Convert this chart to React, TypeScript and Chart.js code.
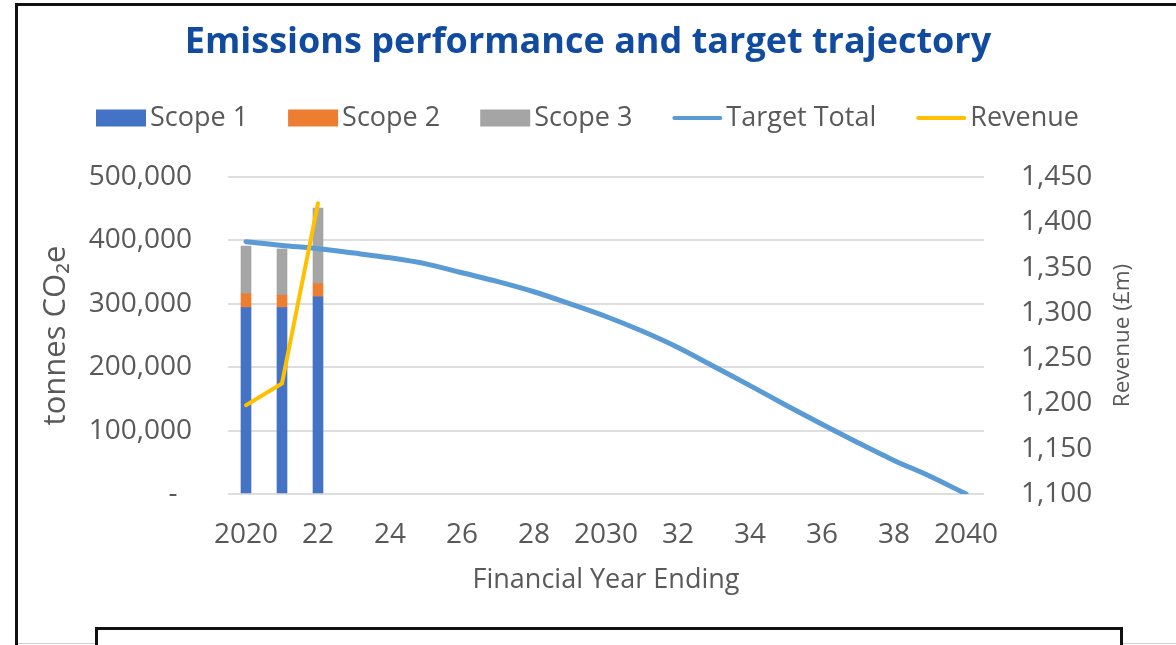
import React, { useEffect, useRef } from 'react';
import { Chart, registerables } from 'chart.js';

Chart.register(...registerables);

const FONT = "'Open Sans', sans-serif";
const TEXT_GREY = '#595959';

const years = [2020, 2021, 2022, 2023, 2024, 2025, 2026, 2027, 2028, 2029, 2030, 2031, 2032, 2033, 2034, 2035, 2036, 2037, 2038, 2039, 2040];
const xTickLabels = ['2020', '', '22', '', '24', '', '26', '', '28', '', '2030', '', '32', '', '34', '', '36', '', '38', '', '2040'];

const scope1 = [294000, 294000, 311000];
const scope2 = [22000, 19500, 21000];
const scope3 = [75000, 73000, 119000];
const targetTotal = [398000, 392000, 387000, 380000, 372500, 363000, 349000, 335000, 319000, 300000, 280000, 257000, 231000, 201000, 171000, 140000, 110000, 81000, 53000, 28000, 0];
const revenue = [1198, 1222, 1421];

const titleText = 'Emissions performance and target trajectory';
const leftAxisTitle = 'tonnes CO₂e';
const rightAxisTitle = 'Revenue (£m)';
const xAxisTitle = 'Financial Year Ending';

const decorPlugin = {
  id: 'decor',
  afterDraw(chart: any) {
    const ctx = chart.ctx as CanvasRenderingContext2D;
    ctx.save();
    // custom legend
    ctx.font = `27px ${FONT}`;
    ctx.textBaseline = 'middle';
    ctx.textAlign = 'left';
    const boxW = 50;
    const gapBT = 4;
    const gapItems = 40;
    const items = chart.data.datasets.map((ds: any) => ({
      label: ds.label,
      isLine: ds.type === 'line',
      color: ds.type === 'line' ? ds.borderColor : ds.backgroundColor,
      w: ctx.measureText(ds.label).width,
    }));
    const total = items.reduce((s: number, it: any) => s + boxW + gapBT + it.w, 0) + gapItems * (items.length - 1);
    let x = 587.5 - total / 2;
    const y = 118;
    items.forEach((it: any) => {
      if (it.isLine) {
        ctx.strokeStyle = it.color;
        ctx.lineWidth = 4;
        ctx.lineCap = 'round';
        ctx.beginPath();
        ctx.moveTo(x + 2, y);
        ctx.lineTo(x + boxW - 2, y);
        ctx.stroke();
      } else {
        ctx.fillStyle = it.color;
        ctx.fillRect(x, y - 8.5, boxW, 17);
      }
      ctx.fillStyle = TEXT_GREY;
      ctx.fillText(it.label, x + boxW + gapBT, y);
      x += boxW + gapBT + it.w + gapItems;
    });
    // right axis title, reading bottom-to-top
    const y1 = chart.scales.y1;
    ctx.translate(1123, (y1.top + y1.bottom) / 2);
    ctx.rotate(-Math.PI / 2);
    ctx.font = `22.5px ${FONT}`;
    ctx.textAlign = 'center';
    ctx.textBaseline = 'middle';
    ctx.fillStyle = TEXT_GREY;
    ctx.fillText(rightAxisTitle, 0, 0);
    ctx.restore();
  },
};

export default function App() {
  const canvasRef = useRef<HTMLCanvasElement | null>(null);

  useEffect(() => {
    if (!canvasRef.current) return;
    const chart = new Chart(canvasRef.current, {
      type: 'bar',
      data: {
        labels: years,
        datasets: [
          { type: 'bar', label: 'Scope 1', data: scope1, backgroundColor: '#4472C4', stack: 'emissions', order: 3, barThickness: 10, yAxisID: 'y' },
          { type: 'bar', label: 'Scope 2', data: scope2, backgroundColor: '#ED7D31', stack: 'emissions', order: 3, barThickness: 10, yAxisID: 'y' },
          { type: 'bar', label: 'Scope 3', data: scope3, backgroundColor: '#A5A5A5', stack: 'emissions', order: 3, barThickness: 10, yAxisID: 'y' },
          { type: 'line', label: 'Target Total', data: targetTotal, borderColor: '#5B9BD5', backgroundColor: '#5B9BD5', borderWidth: 5, pointRadius: 0, tension: 0.3, borderCapStyle: 'round', stack: 'target', order: 2, yAxisID: 'y' },
          { type: 'line', label: 'Revenue', data: revenue, borderColor: '#FFC000', backgroundColor: '#FFC000', borderWidth: 4, pointRadius: 0, tension: 0, borderCapStyle: 'round', order: 1, yAxisID: 'y1' },
        ] as any,
      },
      options: {
        animation: false,
        responsive: true,
        maintainAspectRatio: false,
        layout: { padding: 0 },
        plugins: {
          legend: { display: false },
          tooltip: { enabled: false },
          title: {
            display: true,
            text: titleText,
            color: '#114B9F',
            font: { family: FONT, size: 36, weight: 'bold' },
            padding: { top: 21, bottom: 112.8 },
          },
        },
        scales: {
          x: {
            stacked: true,
            offset: true,
            grid: { display: false, drawTicks: false },
            border: { display: false },
            ticks: {
              autoSkip: false,
              maxRotation: 0,
              minRotation: 0,
              padding: 24,
              color: TEXT_GREY,
              font: { family: FONT, size: 28 },
              callback: (_v: any, i: number) => xTickLabels[i],
            },
            title: {
              display: true,
              text: xAxisTitle,
              color: TEXT_GREY,
              font: { family: FONT, size: 27 },
              padding: { top: 0, bottom: 48.8 },
            },
            afterFit: (s: any) => { s.height = 645 - 494; },
          },
          y: {
            stacked: true,
            min: 0,
            max: 500000,
            position: 'left',
            grid: { color: '#DEDEDE', lineWidth: 2, drawTicks: false },
            border: { display: false },
            ticks: {
              stepSize: 100000,
              padding: 36,
              color: TEXT_GREY,
              font: { family: FONT, size: 28 },
              callback: (v: any) => (Number(v) === 0 ? '-  ' : Number(v).toLocaleString('en-US')),
            },
            title: {
              display: true,
              text: leftAxisTitle,
              color: TEXT_GREY,
              font: { family: FONT, size: 31 },
              padding: { top: 37.4, bottom: 0 },
            },
            afterFit: (s: any) => { s.width = 228; },
          },
          y1: {
            position: 'right',
            min: 1100,
            max: 1450,
            grid: { display: false, drawTicks: false },
            border: { display: false },
            ticks: {
              stepSize: 50,
              padding: 37,
              color: TEXT_GREY,
              font: { family: FONT, size: 28 },
              callback: (v: any) => Number(v).toLocaleString('en-US'),
            },
            afterFit: (s: any) => { s.width = 1176 - 984; },
          },
        },
      } as any,
      plugins: [decorPlugin],
    });
    return () => chart.destroy();
  }, []);

  return (
    <div style={{ position: 'absolute', left: 0, top: 0, width: 1176, height: 645, overflow: 'hidden', background: '#fff' }}>
      <canvas ref={canvasRef} style={{ position: 'absolute', left: 0, top: 0 }} />
      <div style={{ position: 'absolute', left: 15, top: 3, width: 3, height: 642, background: '#111' }} />
      <div style={{ position: 'absolute', left: 15, top: 3, width: 1161, height: 3, background: '#111' }} />
      <div style={{ position: 'absolute', left: 18, top: 643, width: 78, height: 1, background: '#d0d0d0' }} />
      <div style={{ position: 'absolute', left: 1121, top: 643, width: 55, height: 1, background: '#d0d0d0' }} />
      <div style={{ position: 'absolute', left: 95, top: 627, width: 1022, height: 40, borderTop: '3px solid #111', borderLeft: '3px solid #111', borderRight: '3px solid #111' }} />
    </div>
  );
}
